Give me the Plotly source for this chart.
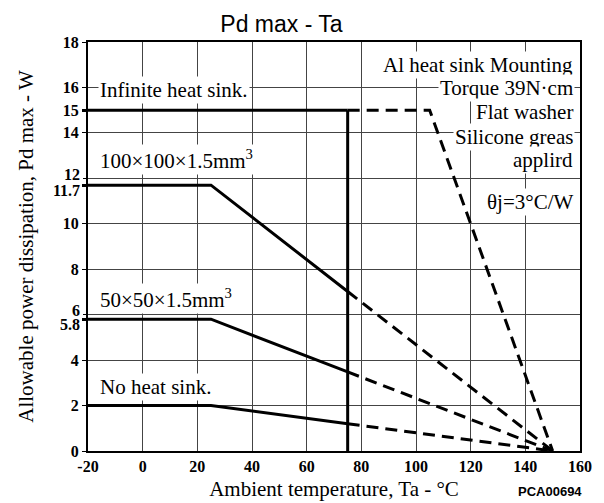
import plotly.graph_objects as go

# ---- data ----
x_tick_vals = [-20, 0, 20, 40, 60, 80, 100, 120, 140, 160]
y_tick_vals = [0, 2, 4, 8, 10, 14, 16, 18]
y_grid_extra = [6, 12]
y_limit_tick = [15]
y_limit_text = ["15"]
y_knee_ticks = [5.8, 11.7]
# crowded labels drawn beside the axis with a small vertical nudge
y_crowded_vals = [6, 5.8, 12, 11.7]
y_crowded_text = ["6", "5.8", "12", "11.7"]
y_crowded_shift = [4, -5, 4, -5]

# solid (rated) parts
inf_x = [-20, 75]
inf_y = [15, 15]
h100_x = [-20, 25, 75]
h100_y = [11.7, 11.7, 7.02]
h50_x = [-20, 25, 75]
h50_y = [5.8, 5.8, 3.48]
none_x = [-20, 25, 75]
none_y = [2, 2, 1.2]

# dashed extensions
inf_dx = [75, 105, 150]
inf_dy = [15, 15, 0]
h100_dx = [75, 150]
h100_dy = [7.02, 0]
h50_dx = [75, 150]
h50_dy = [3.48, 0]
none_dx = [75, 150]
none_dy = [1.2, 0]

# vertical limit at Tc = 75
vline_x = [75, 75]
vline_y = [0, 15]

curve_labels = ["Infinite heat sink.", "100×100×1.5mm<sup>3</sup>",
                "50×50×1.5mm<sup>3</sup>", "No heat sink."]
curve_label_y = [15.89, 12.81, 6.73, 2.82]
curve_label_x = -16.2

note_lines = ["Al heat sink Mounting", "Torque 39N·cm", "Flat washer",
              "Silicone greas", "applird", "θj=3°C/W"]
note_y = [16.99, 15.98, 14.92, 13.82, 12.81, 10.96]
note_x = 158.2

SERIF = "Liberation Serif"
fig = go.Figure()

solid = dict(color="black", width=3)
dashed = dict(color="black", width=3, dash="12px,7px")

for xs, ys in [(inf_x, inf_y), (h100_x, h100_y), (h50_x, h50_y), (none_x, none_y)]:
    fig.add_trace(go.Scatter(x=xs, y=ys, mode="lines", line=solid, hoverinfo="skip"))
for xs, ys in [(inf_dx, inf_dy), (h100_dx, h100_dy), (h50_dx, h50_dy), (none_dx, none_dy)]:
    fig.add_trace(go.Scatter(x=xs, y=ys, mode="lines", line=dashed, hoverinfo="skip"))
fig.add_trace(go.Scatter(x=vline_x, y=vline_y, mode="lines", line=solid, hoverinfo="skip"))

# invisible anchors so the overlaid tick/grid axes are drawn
for ax in ["y2", "y3", "y4"]:
    fig.add_trace(go.Scatter(x=[-20], y=[0], yaxis=ax, mode="markers",
                             marker=dict(size=0, opacity=0), hoverinfo="skip"))

tickfont = dict(family=SERIF, size=16, color="black")

annotations = []
for t, yv, sh in zip(y_crowded_text, y_crowded_vals, y_crowded_shift):
    annotations.append(dict(x=0, y=yv, xref="paper", yref="y", text="<b>" + t + "</b>",
                            showarrow=False, xanchor="right", yanchor="middle",
                            xshift=-6, yshift=sh, font=tickfont))
for t, yv in zip(curve_labels, curve_label_y):
    annotations.append(dict(x=curve_label_x, y=yv, xref="x", yref="y", text=t,
                            showarrow=False, xanchor="left", yanchor="middle",
                            bgcolor="white", borderpad=1,
                            font=dict(family=SERIF, size=21, color="black")))
for t, yv in zip(note_lines, note_y):
    annotations.append(dict(x=note_x, y=yv, xref="x", yref="y", text=t,
                            showarrow=False, xanchor="right", yanchor="middle",
                            bgcolor="white", borderpad=1,
                            font=dict(family=SERIF, size=21, color="black")))
annotations.append(dict(x=0.939, y=-0.098, xref="paper", yref="paper", text="<b>PCA00694</b>",
                        showarrow=False, xanchor="center", yanchor="middle",
                        font=dict(family="Liberation Sans", size=13, color="black")))

axis_common = dict(showline=True, linecolor="black", linewidth=2, mirror=True,
                   zeroline=False, automargin=False)
overlay_common = dict(range=[0, 18], overlaying="y", side="left", tickmode="array",
                      zeroline=False, showline=False, tickcolor="black",
                      ticks="outside", tickfont=tickfont, automargin=False)

fig.update_layout(
    width=604, height=503,
    margin=dict(l=88, r=24, t=42, b=52, autoexpand=False),
    paper_bgcolor="white", plot_bgcolor="white",
    showlegend=False,
    title=dict(text="Pd max - Ta", x=0.466, xref="container", xanchor="center",
               y=1 - 16 / 503, yref="container", yanchor="top",
               font=dict(family="Liberation Sans", size=23, color="black")),
    xaxis=dict(range=[-20, 160], tickmode="array", tickvals=x_tick_vals,
               ticktext=["<b>%d</b>" % v for v in x_tick_vals],
               showgrid=True, gridcolor="#444", gridwidth=1,
               ticks="", tickfont=tickfont,
               title=dict(text="Ambient temperature, Ta - °C", standoff=7,
                          font=dict(family=SERIF, size=21, color="black")),
               **axis_common),
    yaxis=dict(range=[0, 18], tickmode="array", tickvals=y_tick_vals,
               ticktext=["<b>%d</b>" % v for v in y_tick_vals],
               showgrid=True, gridcolor="#444", gridwidth=1,
               ticks="outside", ticklen=4, tickcolor="black",
               tickfont=tickfont,
               title=dict(text="Allowable power dissipation, Pd max - W", standoff=23,
                          font=dict(family=SERIF, size=21, color="black")),
               **axis_common),
    yaxis2=dict(tickvals=y_grid_extra, showticklabels=False, showgrid=True,
                gridcolor="#444", gridwidth=1, ticklen=4, **overlay_common),
    yaxis3=dict(tickvals=y_limit_tick, ticktext=["<b>%s</b>" % t for t in y_limit_text],
                showgrid=False, ticklen=5, tickwidth=3, **overlay_common),
    yaxis4=dict(tickvals=y_knee_ticks, showticklabels=False, showgrid=False,
                ticklen=5, tickwidth=3, **overlay_common),
    annotations=annotations,
)

fig.write_html("out.html", config={"displayModeBar": False},
               post_script="document.body.style.margin='0px';document.body.style.overflow='hidden';")
